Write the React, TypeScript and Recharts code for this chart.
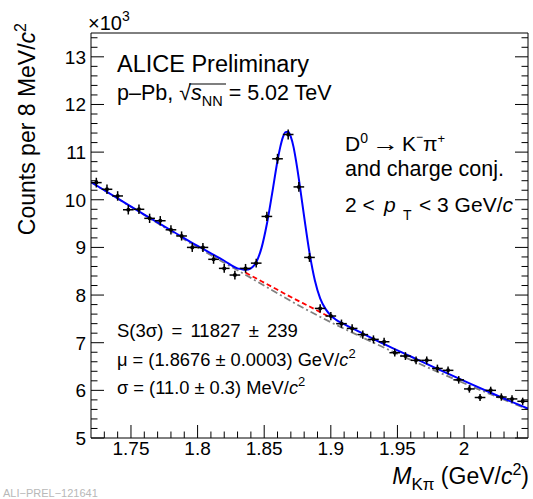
import { ComposedChart, Line, Scatter, ErrorBar, XAxis, YAxis } from "recharts";

// invariant mass bin centres (GeV/c^2), 8 MeV bins
const masses = [
  1.724, 1.732, 1.74, 1.748, 1.756, 1.764, 1.772, 1.78, 1.788, 1.796,
  1.804, 1.812, 1.82, 1.828, 1.836, 1.844, 1.852, 1.86, 1.868, 1.876,
  1.884, 1.892, 1.9, 1.908, 1.916, 1.924, 1.932, 1.94, 1.948, 1.956,
  1.964, 1.972, 1.98, 1.988, 1.996, 2.004, 2.012, 2.02, 2.028, 2.036, 2.044,
];
// counts per bin (x10^3)
const counts = [
  10.36, 10.22, 10.08, 9.79, 9.8, 9.61, 9.56, 9.37, 9.24, 9.0,
  9.0, 8.75, 8.56, 8.42, 8.56, 8.67, 9.65, 10.86, 11.37, 10.27,
  8.79, 7.72, 7.56, 7.4, 7.3, 7.17, 7.07, 7.02, 6.79, 6.72,
  6.63, 6.63, 6.46, 6.42, 6.22, 6.03, 5.85, 6.0, 5.86, 5.82, 5.77,
];
const countErrors = [
  0.102, 0.101, 0.1, 0.099, 0.099, 0.098, 0.098, 0.097, 0.096, 0.095,
  0.095, 0.094, 0.093, 0.092, 0.093, 0.093, 0.098, 0.104, 0.107, 0.101,
  0.094, 0.088, 0.087, 0.086, 0.085, 0.085, 0.084, 0.084, 0.082, 0.082,
  0.081, 0.081, 0.08, 0.08, 0.079, 0.078, 0.076, 0.077, 0.077, 0.076, 0.076,
];
const binHalfWidth = 0.004;

// total fit (blue)
const totalFitM = [
  1.72, 1.74, 1.76, 1.78, 1.8, 1.82, 1.83, 1.832, 1.836, 1.84, 1.844, 1.848,
  1.852, 1.856, 1.86, 1.862, 1.864, 1.866, 1.868, 1.87, 1.872, 1.874, 1.876,
  1.88, 1.884, 1.888, 1.892, 1.896, 1.9, 1.904, 1.91, 1.92, 1.94, 1.96, 1.98,
  2.0, 2.02, 2.04, 2.048,
];
const totalFitV = [
  10.37, 10.03, 9.69, 9.36, 9.03, 8.72, 8.56, 8.55, 8.53, 8.56, 8.69, 8.99,
  9.49, 10.14, 10.82, 11.1, 11.31, 11.42, 11.43, 11.32, 11.11, 10.8, 10.44,
  9.64, 8.89, 8.31, 7.93, 7.71, 7.57, 7.48, 7.39, 7.25, 6.97, 6.71, 6.45,
  6.2, 5.95, 5.71, 5.62,
];
// background under the peak (red dashed)
const bkgM = [1.836, 1.848, 1.86, 1.872, 1.884, 1.899];
const bkgV = [8.47, 8.29, 8.11, 7.93, 7.76, 7.54];
// sideband background (grey dash-dotted)
const sideM = [1.72, 1.76, 1.8, 1.84, 1.88, 1.9, 1.92, 1.96, 2.0, 2.048];
const sideV = [10.37, 9.68, 9.0, 8.36, 7.72, 7.43, 7.16, 6.64, 6.15, 5.6];

const xMajor = [1.75, 1.8, 1.85, 1.9, 1.95, 2.0];
const xMinor = [
  1.73, 1.74, 1.76, 1.77, 1.78, 1.79, 1.81, 1.82, 1.83, 1.84, 1.86, 1.87, 1.88,
  1.89, 1.91, 1.92, 1.93, 1.94, 1.96, 1.97, 1.98, 1.99, 2.01, 2.02, 2.03, 2.04,
];
const yMajor = [5, 6, 7, 8, 9, 10, 11, 12, 13];
const yMinor = [
  5.2, 5.4, 5.6, 5.8, 6.2, 6.4, 6.6, 6.8, 7.2, 7.4, 7.6, 7.8, 8.2, 8.4, 8.6,
  8.8, 9.2, 9.4, 9.6, 9.8, 10.2, 10.4, 10.6, 10.8, 11.2, 11.4, 11.6, 11.8,
  12.2, 12.4, 12.6, 12.8, 13.2, 13.4,
];

const points = masses.map((m, i) => ({ m, v: counts[i], xErr: binHalfWidth, yErr: countErrors[i] }));
const totalFit = totalFitM.map((m, i) => ({ m, v: totalFitV[i] }));
const bkgFit = bkgM.map((m, i) => ({ m, v: bkgV[i] }));
const sideFit = sideM.map((m, i) => ({ m, v: sideV[i] }));

const xTicks = [...xMinor, ...xMajor].sort((a, b) => a - b);
const yTicks = [...yMinor, ...yMajor].sort((a, b) => a - b);
const xDomain = [1.72, 2.048];
const yDomain = [5, 13.5];

const font = '"Liberation Sans", Arial, Helvetica, sans-serif';
const isMajor = (list: number[], v: number) => list.some((t) => Math.abs(t - v) < 1e-6);

const BottomTick = (props: any) => {
  const { x, y, payload } = props;
  const major = isMajor(xMajor, payload.value);
  return (
    <g>
      <line x1={x} x2={x} y1={y} y2={y - (major ? 13 : 6.5)} stroke="#000" />
      {major && (
        <text x={x} y={y + 17} textAnchor="middle" fontSize={19} fontFamily={font} fill="#000">
          {String(payload.value)}
        </text>
      )}
    </g>
  );
};

const TopTick = (props: any) => {
  const { x, y, payload } = props;
  const major = isMajor(xMajor, payload.value);
  return <line x1={x} x2={x} y1={y} y2={y + (major ? 13 : 6.5)} stroke="#000" />;
};

const LeftTick = (props: any) => {
  const { x, y, payload } = props;
  const major = isMajor(yMajor, payload.value);
  return (
    <g>
      <line x1={x} x2={x + (major ? 13 : 6.5)} y1={y} y2={y} stroke="#000" />
      {major && (
        <text x={x - 5} y={y + 7} textAnchor="end" fontSize={19} fontFamily={font} fill="#000">
          {String(payload.value)}
        </text>
      )}
    </g>
  );
};

const RightTick = (props: any) => {
  const { x, y, payload } = props;
  const major = isMajor(yMajor, payload.value);
  return <line x1={x} x2={x - (major ? 13 : 6.5)} y1={y} y2={y} stroke="#000" />;
};

const Marker = (props: any) => <circle cx={props.cx} cy={props.cy} r={2} fill="#000" />;

export default function App() {
  return (
    <div style={{ position: "absolute", left: 0, top: 0, width: 533, height: 499, background: "#fff" }}>
      <ComposedChart width={533} height={499} margin={{ top: 0, right: 0, bottom: 0, left: 0 }}>
        <XAxis
          xAxisId="bottom" dataKey="m" type="number" orientation="bottom" height={61}
          domain={xDomain} allowDataOverflow ticks={xTicks} interval={0}
          tickSize={0} tickMargin={0} tickLine={false} tick={BottomTick}
          axisLine={{ stroke: "#000" }}
        />
        <XAxis
          xAxisId="top" type="number" orientation="top" height={33}
          domain={xDomain} allowDataOverflow ticks={xTicks} interval={0}
          tickSize={0} tickMargin={0} tickLine={false} tick={TopTick}
          axisLine={{ stroke: "#000" }}
        />
        <YAxis
          yAxisId="left" dataKey="v" type="number" orientation="left" width={91}
          domain={yDomain} allowDataOverflow ticks={yTicks} interval={0}
          tickSize={0} tickMargin={0} tickLine={false} tick={LeftTick}
          axisLine={{ stroke: "#000" }}
        />
        <YAxis
          yAxisId="right" type="number" orientation="right" width={5}
          domain={yDomain} allowDataOverflow ticks={yTicks} interval={0}
          tickSize={0} tickMargin={0} tickLine={false} tick={RightTick}
          axisLine={{ stroke: "#000" }}
        />
        <Line
          data={sideFit} dataKey="v" xAxisId="bottom" yAxisId="left" type="monotone"
          stroke="#808080" strokeWidth={1.8} strokeDasharray="7 3 2 3" dot={false} isAnimationActive={false}
        />
        <Line
          data={bkgFit} dataKey="v" xAxisId="bottom" yAxisId="left" type="monotone"
          stroke="#ff0000" strokeWidth={1.8} strokeDasharray="5 3" dot={false} isAnimationActive={false}
        />
        <Line
          data={totalFit} dataKey="v" xAxisId="bottom" yAxisId="left" type="monotone"
          stroke="#0000ff" strokeWidth={2} dot={false} isAnimationActive={false}
        />
        <Scatter data={points} dataKey="v" xAxisId="bottom" yAxisId="left" shape={Marker} isAnimationActive={false}>
          <ErrorBar dataKey="yErr" direction="y" width={0} stroke="#000" strokeWidth={1.5} />
          <ErrorBar dataKey="xErr" direction="x" width={0} stroke="#000" strokeWidth={1.5} />
        </Scatter>
      </ComposedChart>
      <svg
        width={533} height={499}
        style={{ position: "absolute", left: 0, top: 0, pointerEvents: "none" }}
        fontFamily={font} fill="#000"
      >
        <text x={88} y={30} fontSize={20}>
          ×10<tspan dy={-9} fontSize={14}>3</tspan>
        </text>
        <text transform="translate(35, 23) rotate(-90)" textAnchor="end" fontSize={23}>
          Counts per 8 MeV/<tspan fontStyle="italic">c</tspan>
          <tspan dy={-9} fontSize={16}>2</tspan>
        </text>
        <text x={529} y={484} textAnchor="end" fontSize={23}>
          <tspan fontStyle="italic">M</tspan>
          <tspan dy={6} fontSize={17}>Kπ</tspan>
          <tspan dy={-6}> (GeV/</tspan>
          <tspan fontStyle="italic">c</tspan>
          <tspan dy={-9} fontSize={16}>2</tspan>
          <tspan dy={9}>)</tspan>
        </text>
        <text x={3} y={497} fontSize={11} fill="#b8b8b8">ALI−PREL−121641</text>

        <text x={117} y={72} fontSize={23.5}>ALICE Preliminary</text>
        <text x={117} y={100} fontSize={21.5}>
          p–Pb, √<tspan fontStyle="italic">s</tspan>
          <tspan dy={6} fontSize={14.5}>NN</tspan>
          <tspan dy={-6}> = 5.02 TeV</tspan>
        </text>
        <line x1={189} x2={226} y1={84} y2={84} stroke="#000" strokeWidth={1.2} />

        <text x={345} y={151} fontSize={21}>
          D<tspan dy={-8} fontSize={14}>0</tspan>
        </text>
        <text transform="translate(372, 151) scale(1.3, 1)" fontSize={21}>→</text>
        <text x={402} y={151} fontSize={21}>
          K<tspan dy={-10} fontSize={12}>−</tspan>
          <tspan x={423} dy={10}>π</tspan>
          <tspan dy={-8} fontSize={13}>+</tspan>
        </text>
        <text x={345} y={176} fontSize={21.5}>and charge conj.</text>
        <text x={345} y={212} fontSize={21}>
          2 &lt;<tspan x={384} fontStyle="italic">p</tspan>
          <tspan x={403} dy={8} fontSize={14}>T</tspan>
          <tspan x={419} dy={-8}>&lt; 3 GeV/</tspan>
          <tspan fontStyle="italic">c</tspan>
        </text>

        <text x={117} y={337} fontSize={18.5} wordSpacing={3}>S(3σ) = 11827 ± 239</text>
        <text x={117} y={366} fontSize={18.3}>
          μ = (1.8676 ± 0.0003) GeV/<tspan fontStyle="italic">c</tspan>
          <tspan dy={-8} fontSize={13}>2</tspan>
        </text>
        <text x={117} y={394} fontSize={18.3}>
          σ = (11.0 ± 0.3) MeV/<tspan fontStyle="italic">c</tspan>
          <tspan dy={-8} fontSize={13}>2</tspan>
        </text>
      </svg>
    </div>
  );
}
